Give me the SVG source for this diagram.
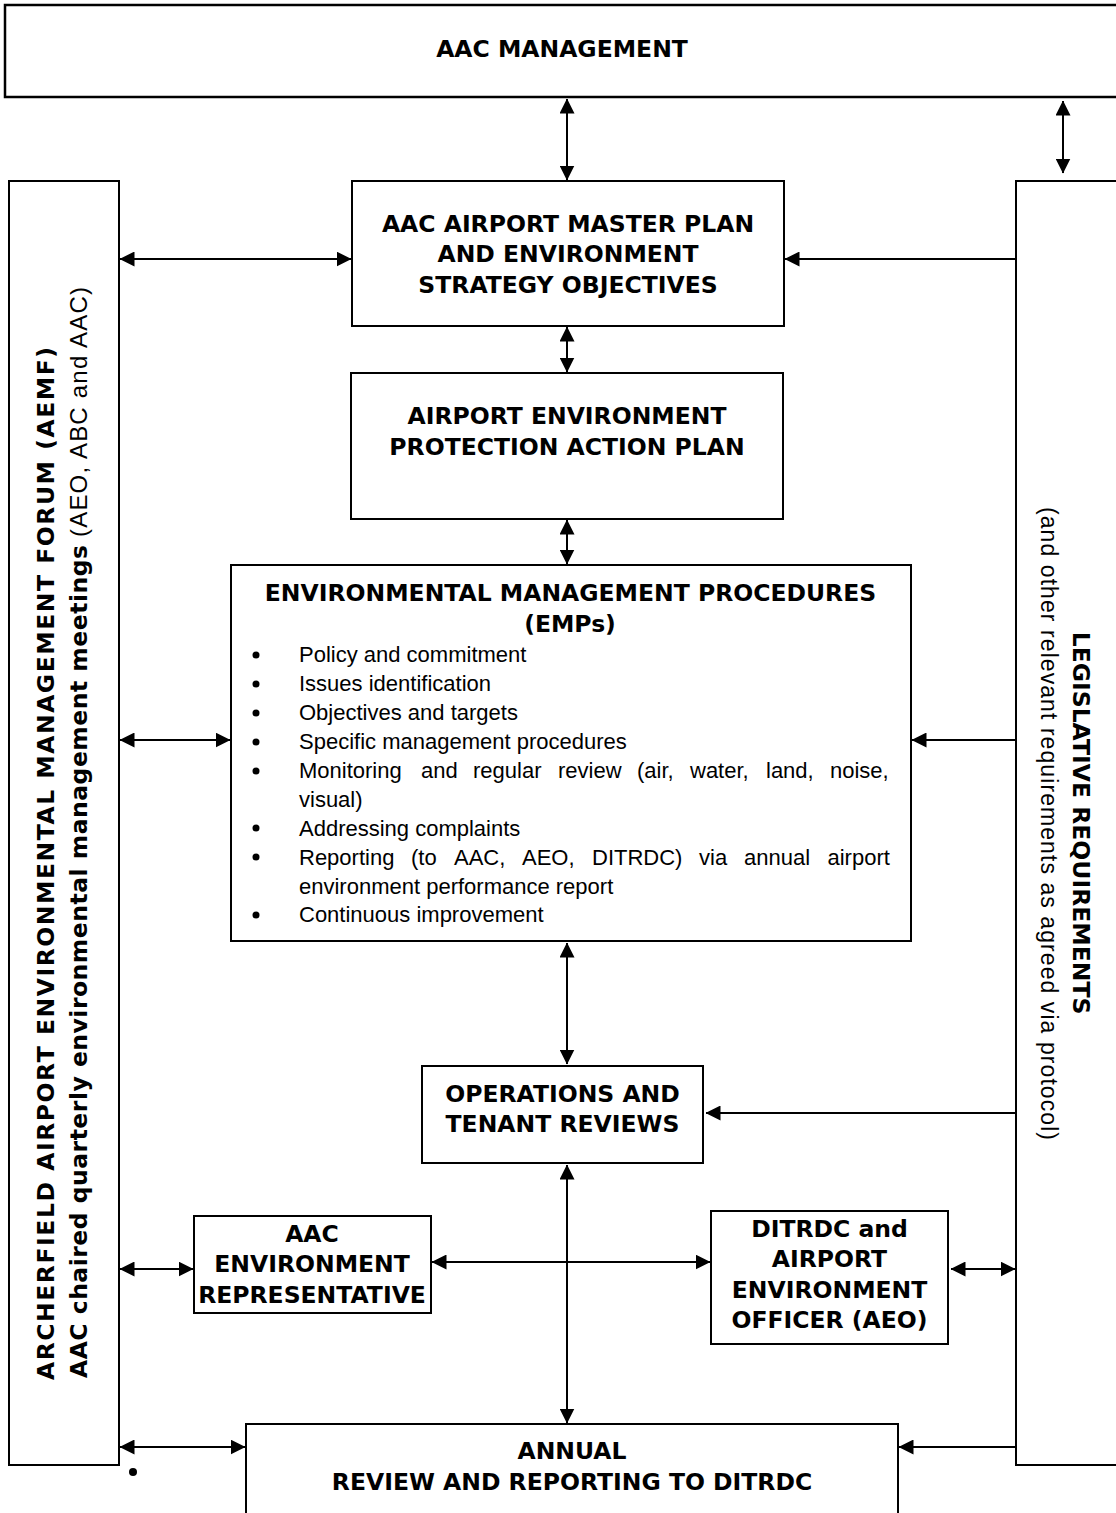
<svg xmlns="http://www.w3.org/2000/svg" width="1116" height="1513" viewBox="0 0 1116 1513">
<style>
.box{fill:#fff;stroke:#000;stroke-width:2}
.h{font-family:"DejaVu Sans",sans-serif;font-weight:bold;font-size:23.5px;text-anchor:middle;fill:#000}
.b{font-family:"Liberation Sans",Arial,sans-serif;font-size:22px;fill:#000}
.con line{stroke:#000;stroke-width:2}
.bi{fill:#000}
</style>
<defs>
<marker id="ah" viewBox="0 0 15 15" refX="14.5" refY="7.5" markerWidth="15" markerHeight="15" markerUnits="userSpaceOnUse" orient="auto-start-reverse"><path d="M0,0 L15,7.5 L0,15 z" fill="#000"/></marker>
</defs>
<rect width="1116" height="1513" fill="#fff"/>

<g id="aac-management">
<rect x="5" y="5" width="1125" height="92" fill="#fff" stroke="#000" stroke-width="2.5"/>
<text class="h" x="562" y="57">AAC MANAGEMENT</text>
</g>

<g id="aemf">
<rect class="box" x="9" y="181" width="110" height="1284"/>
<text class="h" style="text-anchor:start" transform="translate(53.5,1380) rotate(-90)" textLength="1033" lengthAdjust="spacing">ARCHERFIELD AIRPORT ENVIRONMENTAL MANAGEMENT FORUM (AEMF)</text>
<text class="h" style="text-anchor:start" transform="translate(87,1378) rotate(-90)" textLength="833" lengthAdjust="spacing">AAC chaired quarterly environmental management meetings</text>
<text class="b" style="font-size:24px" transform="translate(87,537) rotate(-90)" textLength="250" lengthAdjust="spacing">(AEO, ABC and AAC)</text>
</g>

<g id="legislative">
<rect class="box" x="1016" y="181" width="120" height="1284"/>
<text class="h" transform="translate(1073,823) rotate(90)">LEGISLATIVE REQUIREMENTS</text>
<text class="b" style="font-size:23px" transform="translate(1041,507) rotate(90)" textLength="633" lengthAdjust="spacing">(and other relevant requirements as agreed via protocol)</text>
</g>

<g id="master-plan">
<rect class="box" x="352" y="181" width="432" height="145"/>
<text class="h" x="568" y="232">AAC AIRPORT MASTER PLAN</text>
<text class="h" x="568" y="262">AND ENVIRONMENT</text>
<text class="h" x="568" y="293">STRATEGY OBJECTIVES</text>
</g>

<g id="action-plan">
<rect class="box" x="351" y="373" width="432" height="146"/>
<text class="h" x="567" y="424">AIRPORT ENVIRONMENT</text>
<text class="h" x="567" y="455">PROTECTION ACTION PLAN</text>
</g>

<g id="emp">
<rect class="box" x="231" y="565" width="680" height="376"/>
<text class="h" x="570.5" y="601">ENVIRONMENTAL MANAGEMENT PROCEDURES</text>
<text class="h" x="570" y="632">(EMPs)</text>
<circle class="bi" cx="256" cy="655" r="3.5"/>
<circle class="bi" cx="256" cy="684" r="3.5"/>
<circle class="bi" cx="256" cy="713" r="3.5"/>
<circle class="bi" cx="256" cy="742" r="3.5"/>
<circle class="bi" cx="256" cy="771" r="3.5"/>
<circle class="bi" cx="256" cy="828" r="3.5"/>
<circle class="bi" cx="256" cy="857" r="3.5"/>
<circle class="bi" cx="256" cy="915" r="3.5"/>
<text class="b" x="299" y="662">Policy and commitment</text>
<text class="b" x="299" y="691">Issues identification</text>
<text class="b" x="299" y="720">Objectives and targets</text>
<text class="b" x="299" y="749">Specific management procedures</text>
<text class="b" y="778"><tspan x="299">Monitoring</tspan><tspan x="421">and</tspan><tspan x="473">regular</tspan><tspan x="558">review</tspan><tspan x="637">(air,</tspan><tspan x="690">water,</tspan><tspan x="766">land,</tspan><tspan x="830">noise,</tspan></text>
<text class="b" x="299" y="807">visual)</text>
<text class="b" x="299" y="836">Addressing complaints</text>
<text class="b" y="865"><tspan x="299">Reporting</tspan><tspan x="411">(to</tspan><tspan x="454">AAC,</tspan><tspan x="522">AEO,</tspan><tspan x="592">DITRDC)</tspan><tspan x="699">via</tspan><tspan x="744">annual</tspan><tspan x="827.5">airport</tspan></text>
<text class="b" x="299" y="894">environment performance report</text>
<text class="b" x="299" y="922">Continuous improvement</text>
</g>

<g id="operations">
<rect class="box" x="422" y="1066" width="281" height="97"/>
<text class="h" x="562.5" y="1102">OPERATIONS AND</text>
<text class="h" x="562.5" y="1132">TENANT REVIEWS</text>
</g>

<g id="env-rep">
<rect class="box" x="194" y="1216" width="237" height="97"/>
<text class="h" x="312" y="1242">AAC</text>
<text class="h" x="312" y="1272">ENVIRONMENT</text>
<text class="h" x="312" y="1303">REPRESENTATIVE</text>
</g>

<g id="ditrdc-aeo">
<rect class="box" x="711" y="1211" width="237" height="133"/>
<text class="h" x="829.5" y="1237">DITRDC and</text>
<text class="h" x="829.5" y="1267">AIRPORT</text>
<text class="h" x="829.5" y="1298">ENVIRONMENT</text>
<text class="h" x="829.5" y="1328">OFFICER (AEO)</text>
</g>

<g id="annual">
<rect class="box" x="246" y="1424" width="652" height="120"/>
<text class="h" x="572" y="1459">ANNUAL</text>
<text class="h" x="572" y="1490">REVIEW AND REPORTING TO DITRDC</text>
</g>

<circle cx="133" cy="1472" r="4" fill="#000"/>

<g id="connectors" class="con">
<line x1="567" y1="99" x2="567" y2="180" marker-start="url(#ah)" marker-end="url(#ah)"/>
<line x1="1063" y1="101" x2="1063" y2="173" marker-start="url(#ah)" marker-end="url(#ah)"/>
<line x1="120" y1="259" x2="351" y2="259" marker-start="url(#ah)" marker-end="url(#ah)"/>
<line x1="1016" y1="259" x2="785" y2="259" marker-end="url(#ah)"/>
<line x1="567" y1="327" x2="567" y2="372" marker-start="url(#ah)" marker-end="url(#ah)"/>
<line x1="567" y1="520" x2="567" y2="564" marker-start="url(#ah)" marker-end="url(#ah)"/>
<line x1="120" y1="740" x2="230" y2="740" marker-start="url(#ah)" marker-end="url(#ah)"/>
<line x1="1016" y1="740" x2="912" y2="740" marker-end="url(#ah)"/>
<line x1="567" y1="943" x2="567" y2="1064" marker-start="url(#ah)" marker-end="url(#ah)"/>
<line x1="1016" y1="1113" x2="706" y2="1113" marker-end="url(#ah)"/>
<line x1="567" y1="1165" x2="567" y2="1423" marker-start="url(#ah)" marker-end="url(#ah)"/>
<line x1="120" y1="1269" x2="193" y2="1269" marker-start="url(#ah)" marker-end="url(#ah)"/>
<line x1="432" y1="1262" x2="710" y2="1262" marker-start="url(#ah)" marker-end="url(#ah)"/>
<line x1="951" y1="1269" x2="1015" y2="1269" marker-start="url(#ah)" marker-end="url(#ah)"/>
<line x1="120" y1="1447" x2="245" y2="1447" marker-start="url(#ah)" marker-end="url(#ah)"/>
<line x1="1016" y1="1447" x2="899" y2="1447" marker-end="url(#ah)"/>
</g>
</svg>
